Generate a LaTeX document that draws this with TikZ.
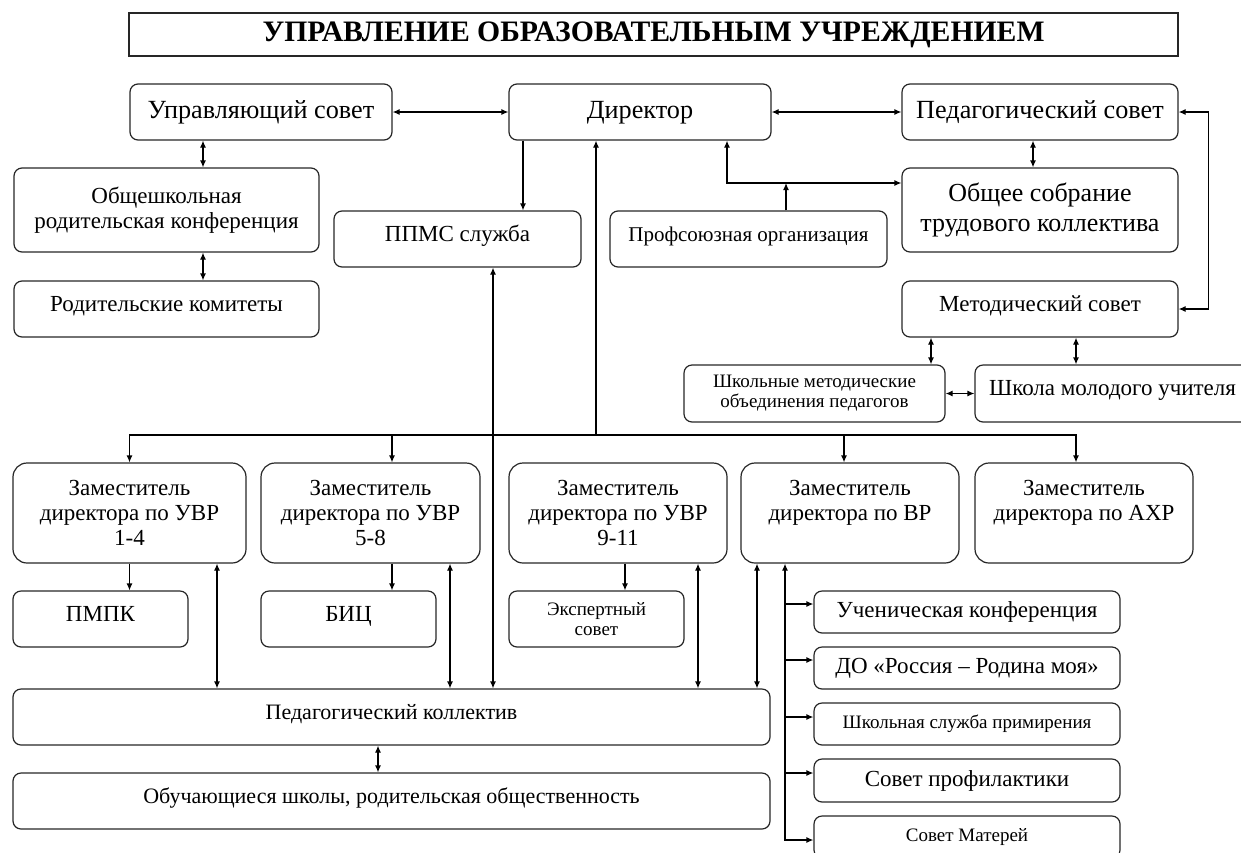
\documentclass[tikz,border=0pt]{standalone}
\usepackage{fontspec}
\setmainfont{Liberation Serif}
\usetikzlibrary{arrows.meta}

\newcommand{\unit}{1pt}

\begin{document}
\begin{tikzpicture}[x = \unit, y = -\unit, line width = 1.2pt, >={Latex[length = 7pt, width = 6pt]},
  box/.style = {draw = black!85, rounded corners = 8pt, align = center, inner sep = 0pt, font = \fontsize{23}{25}\selectfont},
  zam/.style = {box, rounded corners = 14pt, minimum height = 100pt},
  big/.style = {font = \fontsize{26.2}{28}\selectfont, text height = 18pt, text depth = 6pt},
  small/.style = {font = \fontsize{19}{20}\selectfont},
  raised/.style = {text height = 16pt, text depth = 12pt},
  title/.style = {draw = black!85, inner sep = 0pt, font = \bfseries\fontsize{29.7}{31}\selectfont}]
\useasboundingbox (0,0) rectangle (1241,852);

\node[title, minimum width = 1049pt, minimum height = 43pt] (zagolovok) at (653.5,34.5) {УПРАВЛЕНИЕ ОБРАЗОВАТЕЛЬНЫМ УЧРЕЖДЕНИЕМ};

\node[box, big, minimum width = 262pt, minimum height = 56pt] (upravsovet) at (261,112) {Управляющий совет};
\node[box, big, minimum width = 262pt, minimum height = 56pt] (direktor) at (640,112) {Директор};
\node[box, big, minimum width = 276pt, minimum height = 56pt] (pedsovet) at (1040,112) {Педагогический совет};
\node[box, minimum width = 305pt, minimum height = 84pt] (konferencija) at (166.5,210) {Общешкольная\\родительская конференция};
\node[box, raised, minimum width = 305pt, minimum height = 56pt] (komitety) at (166.5,309) {Родительские комитеты};
\node[box, raised, minimum width = 247pt, minimum height = 56pt] (ppms) at (457.5,239) {ППМС служба};
\node[box, raised, font = \fontsize{21}{23}\selectfont, minimum width = 277pt, minimum height = 56pt] (profsojuz) at (748.5,239) {Профсоюзная организация};
\node[box, font = \fontsize{26}{30}\selectfont, minimum width = 276pt, minimum height = 84pt] (sobranie) at (1040,210) {Общее собрание\\трудового коллектива};
\node[box, raised, minimum width = 276pt, minimum height = 56pt] (metsovet) at (1040,309) {Методический совет};
\node[box, small, minimum width = 261pt, minimum height = 57pt] (objedinenija) at (814.5,393.5) {Школьные методические\\объединения педагогов};
\node[box, raised, minimum width = 275pt, minimum height = 57pt] (shkola) at (1112.5,393.5) {Школа молодого учителя};

\node[zam, minimum width = 233pt] (zam1) at (129.5,513) {Заместитель\\директора по УВР\\1-4};
\node[zam, minimum width = 219pt] (zam2) at (370.5,513) {Заместитель\\директора по УВР\\5-8};
\node[zam, minimum width = 218pt] (zam3) at (618,513) {Заместитель\\директора по УВР\\9-11};
\node[zam, minimum width = 218pt] (zam4) at (850,513) {Заместитель\\директора по ВР\\\mbox{}};
\node[zam, minimum width = 218pt] (zam5) at (1084,513) {Заместитель\\директора по АХР\\\mbox{}};

\node[box, raised, minimum width = 175pt, minimum height = 56pt] (pmpk) at (100.5,619) {ПМПК};
\node[box, raised, minimum width = 175pt, minimum height = 56pt] (bic) at (348.5,619) {БИЦ};
\node[box, small, minimum width = 175pt, minimum height = 56pt] (ekspert) at (596.5,619) {Экспертный\\совет};

\node[box, raised, font = \fontsize{22}{24}\selectfont, minimum width = 757pt, minimum height = 56pt] (kollektiv) at (391.5,717) {Педагогический коллектив};
\node[box, raised, font = \fontsize{22}{24}\selectfont, minimum width = 757pt, minimum height = 56pt] (obshchestvennost) at (391.5,801) {Обучающиеся школы, родительская общественность};

\node[box, minimum width = 306pt, minimum height = 42pt] (uchenich) at (967,612) {Ученическая конференция};
\node[box, minimum width = 306pt, minimum height = 42pt] (rossija) at (967,668) {ДО «Россия – Родина моя»};
\node[box, small, minimum width = 306pt, minimum height = 42pt] (primirenie) at (967,724) {Школьная служба примирения};
\node[box, minimum width = 306pt, minimum height = 43pt] (profilaktika) at (967,780.5) {Совет профилактики};
\node[box, small, minimum width = 306pt, minimum height = 42pt] (materi) at (967,837) {Совет Матерей};

% verhnij rjad
\draw [<->] (upravsovet) -- (direktor);
\draw [<->] (direktor) -- (pedsovet);
\draw [<->] ([xshift = -58pt]upravsovet.south) -- ([xshift = -58pt]upravsovet.south |- konferencija.north);
\draw [<->] ([xshift = 36.5pt]konferencija.south) -- ([xshift = 36.5pt]komitety.north);
\draw [->] ([xshift = -117pt]direktor.south) -- ([xshift = -117pt]direktor.south |- ppms.north);

% profsojuz
\coordinate (profuzel) at (727,183);
\draw [<->] (profuzel |- direktor.south) -- (profuzel) -- (profuzel -| sobranie.west);
\draw [->] ([xshift = 37.5pt]profsojuz.north) -- ([xshift = 37.5pt]profsojuz.north |- profuzel);

% pedsovet
\draw [<->] ([xshift = -7pt]pedsovet.south) -- ([xshift = -7pt]sobranie.north);
\draw [<->] (pedsovet.east) -- ++(30,0) |- (metsovet.east);
\draw [<->] ([xshift = -109pt]metsovet.south) -- ([xshift = -109pt]metsovet.south |- objedinenija.north);
\draw [<->] ([xshift = 36pt]metsovet.south) -- ([xshift = 36pt]metsovet.south |- shkola.north);
\draw [<->] (objedinenija) -- (shkola);

% zamestiteli
\coordinate (shina) at (596,435);
\draw [->] (shina) -- (shina |- direktor.south);
\draw [->] (shina) -| (zam1.north);
\draw [->] (shina) -| ([xshift = 21.5pt]zam2.north);
\draw [->] (shina) -| ([xshift = -6pt]zam4.north);
\draw [->] (shina) -| ([xshift = -8pt]zam5.north);
\draw [<->] ([xshift = 35.5pt]ppms.south) -- ([xshift = 35.5pt]ppms.south |- kollektiv.north);

\draw [->] (zam1.south) -- (zam1.south |- pmpk.north);
\draw [->] ([xshift = 21.5pt]zam2.south) -- ([xshift = 21.5pt]zam2.south |- bic.north);
\draw [->] ([xshift = 7pt]zam3.south) -- ([xshift = 7pt]zam3.south |- ekspert.north);
\draw [<->] ([xshift = 87.5pt]zam1.south) -- ([xshift = 87.5pt]zam1.south |- kollektiv.north);
\draw [<->] ([xshift = 79.5pt]zam2.south) -- ([xshift = 79.5pt]zam2.south |- kollektiv.north);
\draw [<->] ([xshift = 80pt]zam3.south) -- ([xshift = 80pt]zam3.south |- kollektiv.north);
\draw [<->] ([xshift = -93pt]zam4.south) -- ([xshift = -93pt]zam4.south |- kollektiv.north);
\draw [<->] ([xshift = -13.5pt]kollektiv.south) -- ([xshift = -13.5pt]obshchestvennost.north);

% vospitatelnaja rabota
\coordinate (vrliniya) at ([xshift = -65pt]zam4.south);
\draw [<->] (vrliniya) |- ([yshift = -3pt]materi.west);
\draw [->] ([yshift = 8pt]uchenich.west -| vrliniya) -- ([yshift = 8pt]uchenich.west);
\draw [->] ([yshift = 8pt]rossija.west -| vrliniya) -- ([yshift = 8pt]rossija.west);
\draw [->] ([yshift = 7pt]primirenie.west -| vrliniya) -- ([yshift = 7pt]primirenie.west);
\draw [->] ([yshift = 7.5pt]profilaktika.west -| vrliniya) -- ([yshift = 7.5pt]profilaktika.west);
\end{tikzpicture}
\end{document}
